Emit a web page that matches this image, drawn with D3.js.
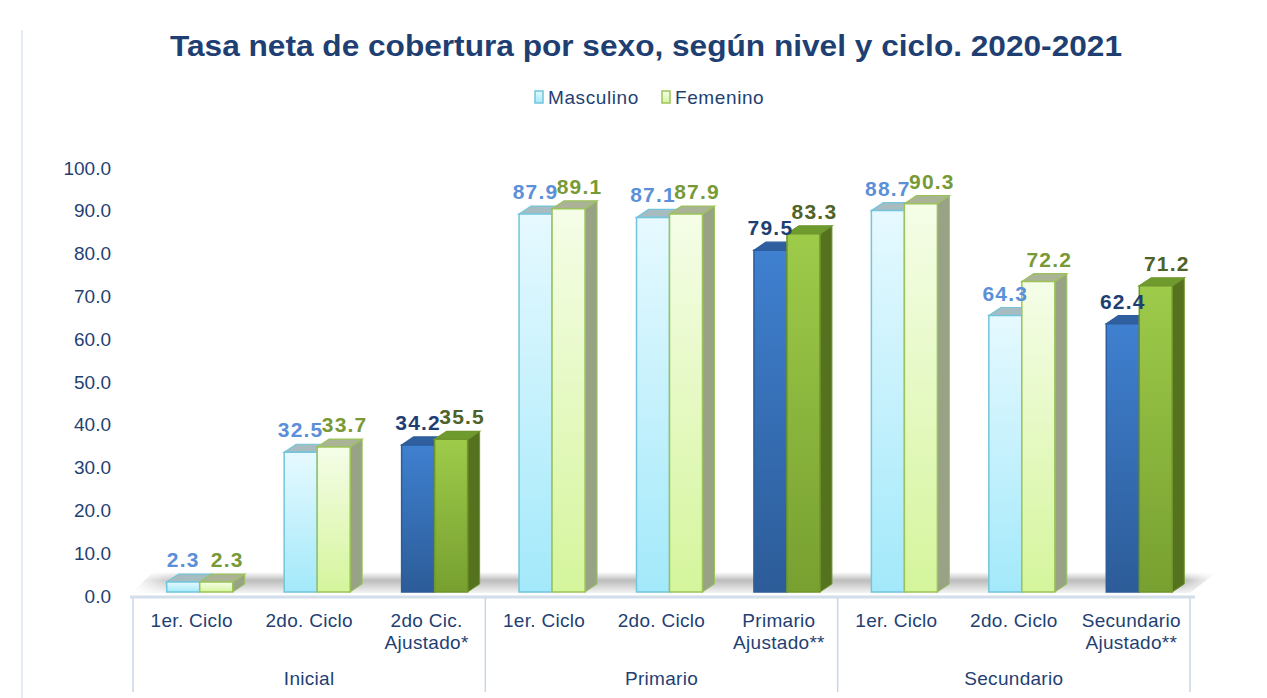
<!DOCTYPE html>
<html>
<head>
<meta charset="utf-8">
<title>Tasa neta de cobertura</title>
<script src="https://cdn.jsdelivr.net/npm/d3@7"></script>
<style>
  body { margin: 0; background: #fff; }
  svg { display: block; font-family: "Liberation Sans", Arial, sans-serif; }
</style>
</head>
<body>
<svg id="chart" width="1267" height="698"></svg>
<script>
// data
const levels = ["Inicial", "Primario", "Secundario"];
const categories = [
  ["1er. Ciclo"], ["2do. Ciclo"], ["2do Cic.", "Ajustado*"],
  ["1er. Ciclo"], ["2do. Ciclo"], ["Primario", "Ajustado**"],
  ["1er. Ciclo"], ["2do. Ciclo"], ["Secundario", "Ajustado**"]
];
const categoryLevel = [0, 0, 0, 1, 1, 1, 2, 2, 2];
const adjusted = [false, false, true, false, false, true, false, false, true];
const masculino = [2.3, 32.5, 34.2, 87.9, 87.1, 79.5, 88.7, 64.3, 62.4];
const femenino = [2.3, 33.7, 35.5, 89.1, 87.9, 83.3, 90.3, 72.2, 71.2];
const yTicks = [0, 10, 20, 30, 40, 50, 60, 70, 80, 90, 100];
const seriesNames = ["Masculino", "Femenino"];

const svg = d3.select("#chart");
const navy = "#1f3f73";

// 3d look
const depthX = 12, depthY = -8;
const barW = 33;

const x = d3.scaleBand().domain(d3.range(categories.length)).range([133, 1190]);
const y = d3.scaleLinear().domain([0, 100]).range([596, 168]);      // axis labels
const yb = d3.scaleLinear().domain([0, 100]).range([592, 162]);     // bar front faces

// gradients
const defs = svg.append("defs");
function vGrad(id, stops) {
  const g = defs.append("linearGradient").attr("id", id)
    .attr("x1", 0).attr("y1", 0).attr("x2", 0).attr("y2", 1);
  stops.forEach(s => g.append("stop").attr("offset", s[0]).attr("stop-color", s[1]));
}
vGrad("mLight", [[0, "#e6f9ff"], [1, "#a3e9fa"]]);
vGrad("fLight", [[0, "#f5fde8"], [1, "#d5f59c"]]);
vGrad("mDark", [[0, "#3f80d0"], [1, "#2c5c98"]]);
vGrad("fDark", [[0, "#9ecb4a"], [1, "#77a030"]]);
vGrad("floor", [[0, "#ffffff"], [0.4, "#bdbdbd"], [0.75, "#dcdcdc"], [1, "#f4f4f4"]]);
const hf = defs.append("linearGradient").attr("id", "floorFade")
  .attr("x1", 0).attr("y1", 0).attr("x2", 1).attr("y2", 0);
hf.append("stop").attr("offset", 0).attr("stop-color", "#fff").attr("stop-opacity", 1);
hf.append("stop").attr("offset", 0.04).attr("stop-color", "#fff").attr("stop-opacity", 0);
hf.append("stop").attr("offset", 0.97).attr("stop-color", "#fff").attr("stop-opacity", 0);
hf.append("stop").attr("offset", 1).attr("stop-color", "#fff").attr("stop-opacity", 1);

const styles = {
  light: [
    { front: "url(#mLight)", stroke: "#72c5dc", top: "#a6bcc0", side: "#98aeb3", label: "#5b8fd8" },
    { front: "url(#fLight)", stroke: "#9cc35a", top: "#aab395", side: "#98a386", label: "#789a36" }
  ],
  dark: [
    { front: "url(#mDark)", stroke: "#2d5d9a", top: "#2f5f9e", side: "#1f477c", label: "#1f3f73" }
    ,{ front: "url(#fDark)", stroke: "#6f962c", top: "#6f9a2e", side: "#55731f", label: "#4f6228" }
  ]
};

// chart border on the left
svg.append("line").attr("x1", 22).attr("x2", 22).attr("y1", 30).attr("y2", 698)
  .attr("stroke", "#dce6f2").attr("stroke-width", 1.5);

// title
svg.append("text").attr("x", 646).attr("y", 56).attr("text-anchor", "middle")
  .attr("font-size", 29).attr("font-weight", "bold").attr("fill", navy)
  .attr("textLength", 952).attr("lengthAdjust", "spacingAndGlyphs")
  .text("Tasa neta de cobertura por sexo, según nivel y ciclo. 2020-2021");

// legend
const legend = svg.append("g");
const legendX = [535, 662];
seriesNames.forEach((name, i) => {
  const g = legend.append("g").attr("transform", `translate(${legendX[i]},90)`);
  g.append("rect").attr("width", 8).attr("height", 12).attr("y", 1)
    .attr("fill", styles.light[i].front).attr("stroke", styles.light[i].stroke).attr("stroke-width", 1.5);
  g.append("text").attr("x", 13).attr("y", 14).attr("font-size", 19).attr("fill", navy)
    .attr("letter-spacing", 0.6).text(name);
});

// floor
const x0 = x.range()[0], x1 = x.range()[1];
const floorPts = [[x0, yb(0) + 1], [x1, yb(0) + 1], [x1 + 26, yb(0) - 20], [x0 + 20, yb(0) - 20]];
svg.append("polygon").attr("points", floorPts.map(p => p.join(",")).join(" ")).attr("fill", "url(#floor)");
svg.append("polygon").attr("points", floorPts.map(p => p.join(",")).join(" ")).attr("fill", "url(#floorFade)");

// y axis labels
svg.append("g").selectAll("text").data(yTicks).join("text")
  .attr("x", 111).attr("y", d => y(d)).attr("dy", "0.35em")
  .attr("text-anchor", "end").attr("font-size", 19).attr("fill", navy)
  .text(d => d3.format(".1f")(d));

// bars
function drawBar(g, bx, v, st) {
  const top = yb(v), bot = yb(0);
  const front = [[bx, top], [bx + barW, top], [bx + barW, bot], [bx, bot]];
  const topFace = [[bx, top], [bx + depthX, top + depthY], [bx + barW + depthX, top + depthY], [bx + barW, top]];
  const side = [[bx + barW, top], [bx + barW + depthX, top + depthY], [bx + barW + depthX, bot + depthY], [bx + barW, bot]];
  const pts = a => a.map(p => p.join(",")).join(" ");
  g.append("polygon").attr("points", pts(side)).attr("fill", st.side).attr("stroke", st.stroke).attr("stroke-width", 1);
  g.append("polygon").attr("points", pts(topFace)).attr("fill", st.top).attr("stroke", st.stroke).attr("stroke-width", 1.2);
  g.append("polygon").attr("points", pts(front)).attr("fill", st.front).attr("stroke", st.stroke).attr("stroke-width", 1.5);
}

const barsG = svg.append("g");
categories.forEach((c, i) => {
  const set = adjusted[i] ? styles.dark : styles.light;
  const cx = x(i) + x.bandwidth() / 2;
  const g = barsG.append("g");
  const vals = [masculino[i], femenino[i]];
  vals.forEach((v, s) => {
    const bx = cx - 25 + s * barW;
    drawBar(g, bx, v, set[s]);
  });
  vals.forEach((v, s) => {
    const bx = cx - 25 + s * barW;
    g.append("text")
      .attr("x", bx + barW / 2 + (s === 1 ? 11 : 0))
      .attr("y", yb(v) + depthY - 7)
      .attr("text-anchor", "middle").attr("font-size", 21).attr("font-weight", "bold")
      .attr("letter-spacing", 1.2)
      .attr("fill", set[s].label).text(d3.format(".1f")(v));
  });
});

// x axis line and dividers
svg.append("line").attr("x1", x0 - 3).attr("x2", x1 + 5).attr("y1", 597).attr("y2", 597)
  .attr("stroke", "#d3deeb").attr("stroke-width", 3);
const levelEdges = [0, 3, 6, 9].map(i => i < 9 ? x(i) : x1);
svg.append("g").selectAll("line").data(levelEdges).join("line")
  .attr("x1", d => d).attr("x2", d => d).attr("y1", 598).attr("y2", 692)
  .attr("stroke", "#c9d6e7").attr("stroke-width", 1.5);

// category labels
const catG = svg.append("g");
categories.forEach((lines, i) => {
  const t = catG.append("text").attr("text-anchor", "middle").attr("font-size", 19).attr("fill", navy)
    .attr("letter-spacing", 0.3)
    .attr("x", x(i) + x.bandwidth() / 2).attr("y", 627);
  lines.forEach((ln, k) => t.append("tspan").attr("x", x(i) + x.bandwidth() / 2).attr("dy", k ? 22 : 0).text(ln));
});

// level labels
svg.append("g").selectAll("text").data(levels).join("text")
  .attr("x", (d, i) => (x(i * 3) + (i < 2 ? x(i * 3 + 3) : x1)) / 2)
  .attr("y", 685).attr("text-anchor", "middle").attr("font-size", 19).attr("fill", navy)
  .attr("letter-spacing", 0.3).text(d => d);
</script>
</body>
</html>
